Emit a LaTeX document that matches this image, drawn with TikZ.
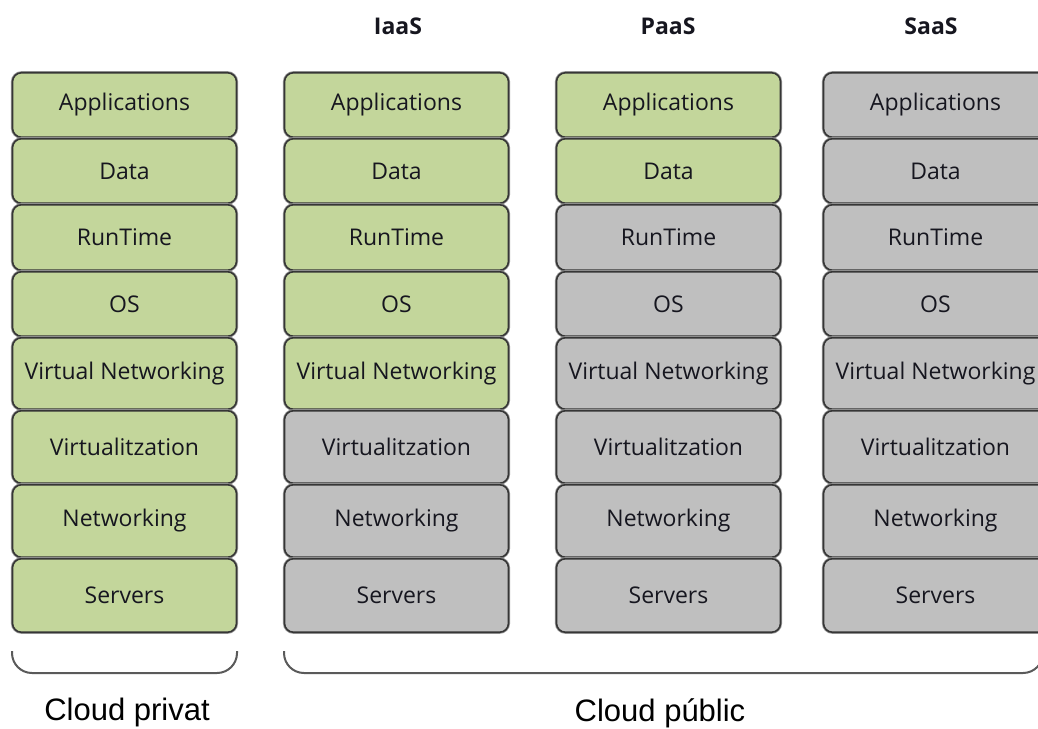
\documentclass[tikz,border=0pt]{standalone}
\usepackage{fontspec}
\setmainfont{Open Sans}
\newfontfamily\captionfont{Liberation Sans}
\definecolor{layergreen}{HTML}{C3D69B}
\definecolor{layergrey}{HTML}{BFBFBF}
\definecolor{layeredge}{HTML}{363636}
\definecolor{layerhalo}{HTML}{9A9A9A}
\definecolor{bracegrey}{HTML}{5A5A5A}
\definecolor{labelink}{HTML}{16161F}

\begin{document}
\begin{tikzpicture}[x=1pt,y=-1pt,
  layer/.style={draw=layeredge, line width=1.6pt, rounded corners=9pt,
    preaction={draw=layerhalo, line width=3.2pt},
    minimum width=224pt, inner sep=0pt, text=labelink,
    font=\fontsize{23}{27}\selectfont},
  managed/.style={layer, fill=layergreen},
  provided/.style={layer, fill=layergrey},
  header/.style={font=\bfseries\fontsize{23}{27}\selectfont, text=labelink},
  cloudlabel/.style={font=\captionfont\fontsize{31}{36}\selectfont, text=black},
  brace/.style={draw=bracegrey, line width=2pt, rounded corners=20pt}]

% canvas
\clip (0,0) rectangle (1038,728);
\fill[white] (0,0) rectangle (1038,728);

% service model headings
\node[header] (iaas) at (398,26) {IaaS};
\node[header] (paas) at (668,26) {PaaS};
\node[header] (saas) at (931,26) {SaaS};

% layer stacks: green = managed by the customer, grey = provided
\foreach \cx/\g [count=\c] in {124.5/8, 396.5/5, 668.5/2, 935.5/0} {
  \foreach \lbl/\top/\bot [count=\r] in {Applications/72/138, Data/138/204,
      RunTime/204/271, OS/271/337, Virtual Networking/337/410,
      Virtualitzation/410/484, Networking/484/558, Servers/558/633} {
    \pgfmathsetmacro\h{\bot-\top-1.5}
    \pgfmathsetmacro\cy{(\top+\bot)/2}
    \ifnum\r>\g \def\st{provided}\else\def\st{managed}\fi
    \node[\st, minimum height=\h pt] (c\c r\r) at (\cx,\cy) {\lbl};
  }
}

% brackets under the stacks
\coordinate (pl) at (12,651);
\coordinate (pr) at (237,651);
\coordinate (ql) at (284,651);
\coordinate (qr) at (1043,651);
\draw[brace] (pl) -- (pl |- 0,673) -- (pr |- 0,673) -- (pr);
\draw[brace] (ql) -- (ql |- 0,673) -- (qr |- 0,673) -- (qr);

\node[cloudlabel] (privat) at (127,712) {Cloud privat};
\node[cloudlabel] (public) at (660,713) {Cloud públic};
\end{tikzpicture}
\end{document}
